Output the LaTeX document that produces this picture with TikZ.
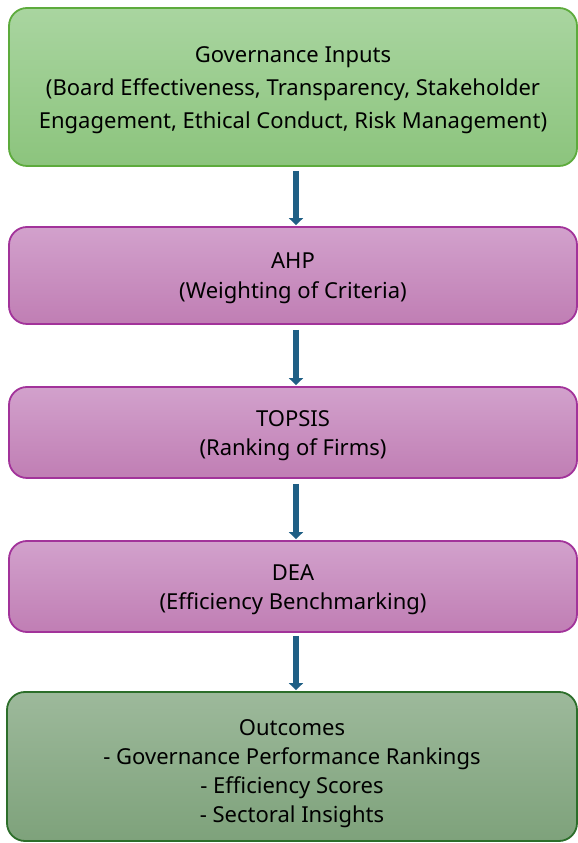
\documentclass[tikz,border=0pt]{standalone}
\usepackage{fontspec}
\setmainfont{Noto Sans}
\usetikzlibrary{arrows.meta}
\definecolor{gtop}{HTML}{A9D5A0}
\definecolor{gbot}{HTML}{8CC47D}
\definecolor{gline}{HTML}{5DAB3C}
\definecolor{ptop}{HTML}{D2A1CC}
\definecolor{pbot}{HTML}{C07EB4}
\definecolor{pline}{HTML}{A2339A}
\definecolor{otop}{HTML}{9DB99B}
\definecolor{obot}{HTML}{7EA27B}
\definecolor{oline}{HTML}{2C6E2A}
\definecolor{arr}{HTML}{1F5F85}
\tikzset{
  x=1pt,y=1pt,
  boxbase/.style={rectangle, rounded corners=18pt, line width=1.8pt, inner sep=0pt},
  greenbox/.style={boxbase, draw=gline, top color=gtop, bottom color=gbot},
  purplebox/.style={boxbase, draw=pline, top color=ptop, bottom color=pbot},
  outbox/.style={boxbase, draw=oline, top color=otop, bottom color=obot},
  boxtext/.style={inner sep=0pt, align=center, text=black, font=\fontsize{22}{#1}\selectfont},
  boxtext/.default=30,
  flowarrow/.style={draw=arr, line width=5.5pt, -{Triangle[width=14pt,length=7pt]}, shorten >=1pt}
}
\begin{document}
\begin{tikzpicture}
\useasboundingbox (0,0) rectangle (578,843);
\node[greenbox, minimum width=568pt, minimum height=158pt] (inp) at (293,756) {};
\node[boxtext=33] (inpt) at ([yshift=-3pt]inp.center)
  {Governance Inputs\\(Board Effectiveness, Transparency, Stakeholder\\Engagement, Ethical Conduct, Risk Management)};
\node[purplebox, minimum width=568pt, minimum height=97pt] (ahp) at (293,567.5) {};
\node[boxtext] (ahpt) at ([yshift=-3pt]ahp.center) {AHP\\(Weighting of Criteria)};
\node[purplebox, minimum width=568pt, minimum height=91pt] (top) at (293,410.5) {};
\node[boxtext=29] (topt) at ([yshift=-3pt]top.center) {TOPSIS\\(Ranking of Firms)};
\node[purplebox, minimum width=568pt, minimum height=91pt] (dea) at (293,256.5) {};
\node[boxtext=29] (deat) at ([yshift=-3pt]dea.center) {DEA\\(Efficiency Benchmarking)};
\node[outbox, minimum width=570pt, minimum height=149pt] (out) at (292,76.5) {};
\node[boxtext=29] (outt) at ([yshift=-7pt]out.center)
  {Outcomes\\- Governance Performance Rankings\\- Efficiency Scores\\- Sectoral Insights};
\draw[flowarrow] ([yshift=-4pt]inp.south -| 296,0) -- (296,0 |- ahp.north);
\draw[flowarrow] ([yshift=-5pt]ahp.south -| 296,0) -- (296,0 |- top.north);
\draw[flowarrow] ([yshift=-5pt]top.south -| 296,0) -- (296,0 |- dea.north);
\draw[flowarrow] ([yshift=-3pt]dea.south -| 296,0) -- (296,0 |- out.north);
\end{tikzpicture}
\end{document}
